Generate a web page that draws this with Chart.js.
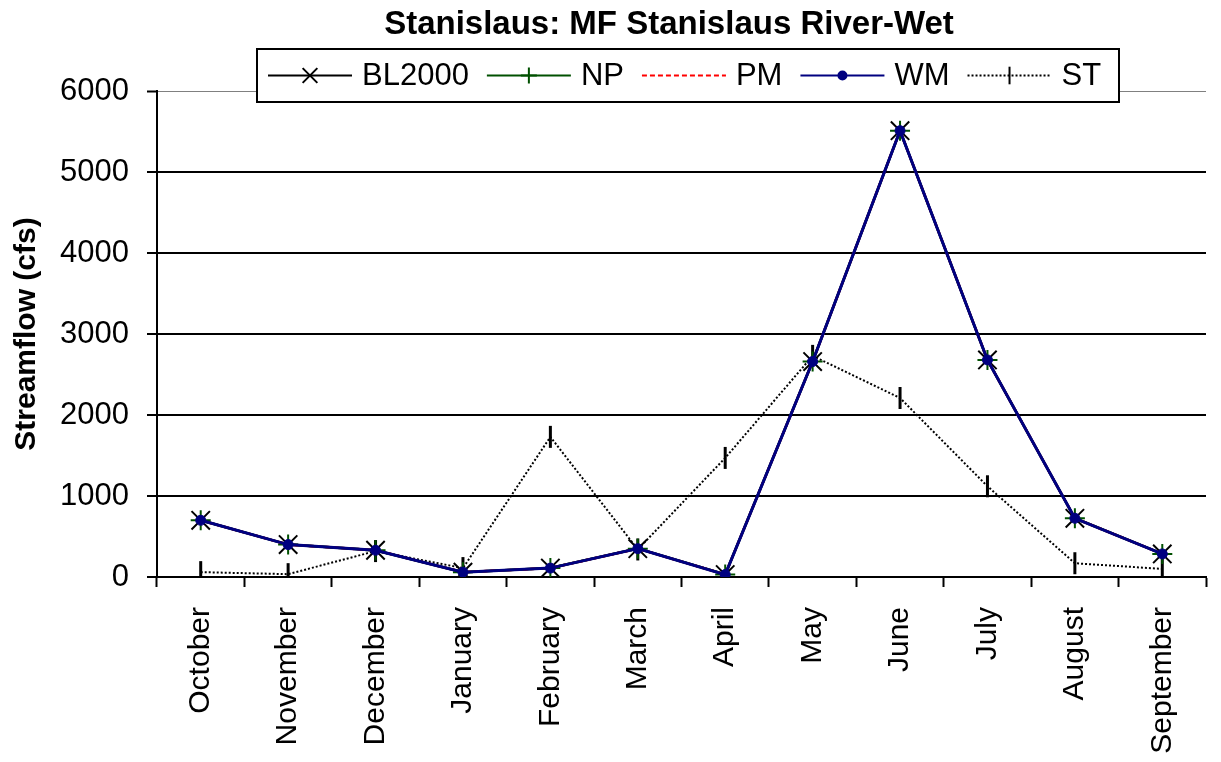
<!DOCTYPE html>
<html>
<head>
<meta charset="utf-8">
<title>Stanislaus: MF Stanislaus River-Wet</title>
<script src="https://cdn.jsdelivr.net/npm/chart.js@4.4.1/dist/chart.umd.min.js"></script>
<style>
  html, body { margin: 0; padding: 0; background: #fff; }
  canvas { display: block; }
</style>
</head>
<body>
<canvas id="flowChart" width="1221" height="762"></canvas>
<script>
// values (cfs)
var months = ['October', 'November', 'December', 'January', 'February', 'March',
              'April', 'May', 'June', 'July', 'August', 'September'];
var bl2000 = [700, 400, 330, 60, 110, 350, 30, 2660, 5510, 2680, 725, 285];
var np     = [700, 400, 330, 60, 110, 350, 30, 2660, 5510, 2680, 725, 285];
var pm     = [700, 400, 330, 60, 110, 350, 30, 2660, 5510, 2680, 725, 285];
var wm     = [700, 400, 330, 60, 110, 350, 30, 2660, 5510, 2680, 725, 285];
var st     = [60, 35, 320, 110, 1730, 340, 1470, 2730, 2210, 1120, 170, 100];
var yTicks = [0, 1000, 2000, 3000, 4000, 5000, 6000];

var FONT = "'Liberation Sans', Arial, sans-serif";
var chartTitle = 'Stanislaus: MF Stanislaus River-Wet';
var legendOrder = ['BL2000', 'NP', 'PM', 'WM', 'ST'];

// title + legend box sit over the plot, like the excel original
var overlayPlugin = {
  id: 'overlay',
  afterDraw: function (chart) {
    var ctx = chart.ctx;
    ctx.save();
    ctx.fillStyle = '#000';
    ctx.font = 'bold 33px ' + FONT;
    ctx.textAlign = 'center';
    ctx.textBaseline = 'middle';
    ctx.fillText(chartTitle, 669, 25);

    // legend box
    var bx = 257, by = 49, bw = 862, bh = 53;
    ctx.fillStyle = '#fff';
    ctx.fillRect(bx, by, bw, bh);
    ctx.strokeStyle = '#000';
    ctx.lineWidth = 2;
    ctx.setLineDash([]);
    ctx.strokeRect(bx, by, bw, bh);

    var cy = by + bh / 2;
    var x = bx + 11;
    ctx.font = '31px ' + FONT;
    ctx.textAlign = 'left';
    legendOrder.forEach(function (name) {
      var ds = chart.data.datasets.filter(function (d) { return d.label === name; })[0];
      ctx.save();
      ctx.strokeStyle = ds.borderColor;
      ctx.lineWidth = 2;
      ctx.setLineDash(ds.borderDash || []);
      ctx.beginPath();
      ctx.moveTo(x, cy);
      ctx.lineTo(x + 84, cy);
      ctx.stroke();
      ctx.setLineDash([]);
      if (ds.pointRadius > 0) {
        ctx.strokeStyle = ds.pointBorderColor;
        ctx.fillStyle = ds.pointBackgroundColor;
        Chart.helpers.drawPoint(ctx, {
          pointStyle: ds.pointStyle,
          rotation: ds.pointRotation || 0,
          radius: ds.pointRadius * 0.8,
          borderWidth: ds.pointBorderWidth
        }, x + 42, cy);
      }
      ctx.restore();
      x += 94;
      ctx.fillStyle = '#000';
      ctx.fillText(name, x, cy + 1);
      x += ctx.measureText(name).width + 18;
    });
    ctx.restore();
  }
};

new Chart(document.getElementById('flowChart'), {
  type: 'line',
  data: {
    labels: months,
    datasets: [
      {
        label: 'BL2000', data: bl2000, order: 4,
        borderColor: '#000', borderWidth: 2.5,
        pointStyle: 'crossRot', pointRadius: 13, pointBorderWidth: 2,
        pointBorderColor: '#000', pointBackgroundColor: '#000'
      },
      {
        label: 'NP', data: np, order: 3,
        borderColor: '#005000', borderWidth: 2.5,
        pointStyle: 'cross', pointRadius: 10, pointBorderWidth: 2,
        pointBorderColor: '#005000', pointBackgroundColor: '#005000'
      },
      {
        label: 'PM', data: pm, order: 2,
        borderColor: '#ff0000', borderWidth: 2.5, borderDash: [5, 3],
        pointRadius: 0
      },
      {
        label: 'WM', data: wm, order: 1,
        borderColor: '#000080', borderWidth: 3,
        pointStyle: 'circle', pointRadius: 5, pointBorderWidth: 1,
        pointBorderColor: '#000080', pointBackgroundColor: '#000080'
      },
      {
        label: 'ST', data: st, order: 5,
        borderColor: '#000', borderWidth: 2, borderDash: [2, 2],
        pointStyle: 'line', pointRotation: 90, pointRadius: 11, pointBorderWidth: 3,
        pointBorderColor: '#000', pointBackgroundColor: '#000'
      }
    ]
  },
  options: {
    responsive: false,
    animation: false,
    devicePixelRatio: 1,
    layout: { padding: { top: 91, right: 0, left: 0, bottom: 0 } },
    plugins: {
      legend: { display: false },
      title: { display: false },
      tooltip: { enabled: false }
    },
    elements: { line: { tension: 0, fill: false } },
    scales: {
      x: {
        offset: true,
        border: { color: '#000', width: 2 },
        grid: {
          offset: true, drawOnChartArea: false, drawTicks: true,
          tickLength: 10, tickColor: '#000', tickWidth: 2
        },
        ticks: {
          autoSkip: false, minRotation: 90, maxRotation: 90,
          padding: 20, color: '#000', font: { family: FONT, size: 30 }
        },
        afterFit: function (scale) { scale.height = 185; }
      },
      y: {
        min: 0, max: 6000,
        afterBuildTicks: function (scale) {
          scale.ticks = yTicks.map(function (v) { return { value: v }; });
        },
        border: { color: '#000', width: 2 },
        grid: {
          color: function (c) { return c.tick && c.tick.value === 6000 ? '#808080' : '#000'; },
          lineWidth: function (c) { return c.tick && c.tick.value === 6000 ? 1 : 2; },
          tickLength: 10, tickColor: '#000', tickWidth: 2
        },
        ticks: {
          padding: 18, color: '#000', font: { family: FONT, size: 31 },
          callback: function (v) { return String(v); }
        },
        title: {
          display: true, text: 'Streamflow (cfs)', color: '#000',
          font: { family: FONT, size: 30, weight: 'bold' },
          padding: { top: 9, bottom: 0 }
        },
        afterFit: function (scale) { scale.width = 157; }
      }
    }
  },
  plugins: [overlayPlugin]
});
</script>
</body>
</html>
